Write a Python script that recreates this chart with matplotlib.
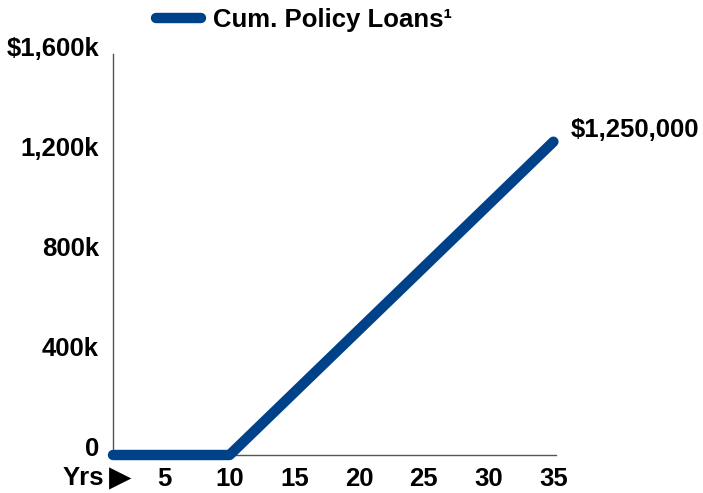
import matplotlib
matplotlib.use("Agg")
import matplotlib.pyplot as plt
from matplotlib.transforms import ScaledTranslation

years = list(range(1, 36))
cum_loans = [0, 0, 0, 0, 0, 0, 0, 0, 0, 0,
             50000, 100000, 150000, 200000, 250000, 300000, 350000, 400000, 450000, 500000,
             550000, 600000, 650000, 700000, 750000, 800000, 850000, 900000, 950000, 1000000,
             1050000, 1100000, 1150000, 1200000, 1250000]
y_ticks = [0, 400000, 800000, 1200000, 1600000]
y_tick_labels = ["0", "400k", "800k", "1,200k", "$1,600k"]
x_ticks = [5, 10, 15, 20, 25, 30, 35]
x_tick_labels = ["5", "10", "15", "20", "25", "30", "35"]
series_name = "Cum. Policy Loans\u00b9"
end_label = "$1,250,000"

plt.rcParams['font.family'] = ['Liberation Sans', 'DejaVu Sans']
plt.rcParams['font.weight'] = 'bold'

FS = 18.5
color = "#00428A"
fig = plt.figure(figsize=(7.03, 4.93), dpi=100)
ax = fig.add_axes([113/703, 38/493, 443/703, 401/493])

line, = ax.plot(years, cum_loans, color=color, lw=7.5, solid_capstyle='round',
                clip_on=False, label=series_name, zorder=3)
ax.set_xlim(1, 35.2)
ax.set_ylim(0, 1600000)

for s in ['top', 'right']:
    ax.spines[s].set_visible(False)
for s in ['left', 'bottom']:
    ax.spines[s].set_color('#555555')
    ax.spines[s].set_linewidth(1.0)

ax.set_yticks(y_ticks)
ax.set_yticklabels(y_tick_labels, fontsize=FS, fontweight='bold')
ax.set_xticks(x_ticks)
ax.set_xticklabels(x_tick_labels, fontsize=FS, fontweight='bold')
ax.tick_params(axis='y', length=0, pad=10)
ax.tick_params(axis='x', length=0, pad=9)
off = ScaledTranslation(0, 8/100, fig.dpi_scale_trans)
for lab in ax.get_yticklabels():
    lab.set_transform(lab.get_transform() + off)

# "Yrs ►" label
fig.text(63/703, (493-478)/493, "Yrs", fontsize=FS, fontweight='bold',
         ha='left', va='center')
fig.text(109/703, (493-478)/493, "\u25B6", fontsize=21, family='DejaVu Sans',
         ha='left', va='center', color='black')

ax.annotate(end_label, xy=(years[-1], cum_loans[-1]), xytext=(17, 12),
            textcoords='offset pixels', fontsize=FS, fontweight='bold',
            ha='left', va='center', annotation_clip=False)

fig.legend(handles=[line], loc='center', bbox_to_anchor=(304/703, (493-20)/493),
           frameon=False, handlelength=1.75, handletextpad=0.5,
           borderpad=0, prop={'weight': 'bold', 'size': FS})

fig.savefig("out.png", dpi=100)
